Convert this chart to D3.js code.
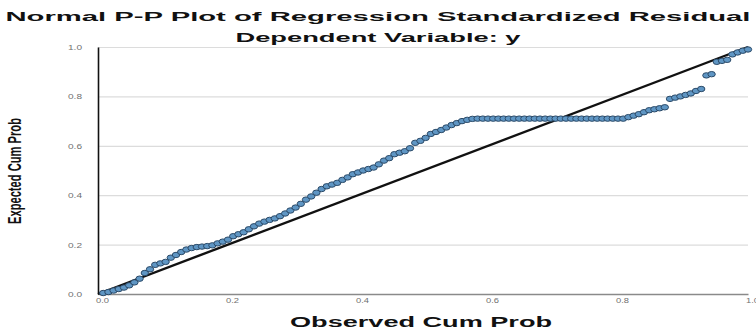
<!DOCTYPE html>
<html>
<head>
<meta charset="utf-8">
<script src="https://cdn.jsdelivr.net/npm/d3@7"></script>
<style>
  html, body { margin: 0; padding: 0; background: #fff; }
  svg { display: block; }
</style>
</head>
<body>
<div id="chart"></div>
<script>
// Normal P-P plot of regression standardized residuals (dependent variable: y)

const titleText = "Normal P-P Plot of Regression Standardized Residual";
const subtitleText = "Dependent Variable: y";
const xAxisTitle = "Observed Cum Prob";
const yAxisTitle = "Expected Cum Prob";

const tickValues = [0, 0.2, 0.4, 0.6, 0.8, 1.0];
const tickLabels = ["0.0", "0.2", "0.4", "0.6", "0.8", "1.0"];

// Observed cumulative probability of each residual
const observed = [
  0.008, 0.016, 0.024, 0.032, 0.040, 0.048, 0.056, 0.064, 0.072, 0.080,
  0.088, 0.096, 0.104, 0.112, 0.120, 0.128, 0.136, 0.144, 0.152, 0.160,
  0.168, 0.176, 0.184, 0.192, 0.200, 0.208, 0.216, 0.224, 0.232, 0.240,
  0.248, 0.256, 0.264, 0.272, 0.280, 0.288, 0.296, 0.304, 0.312, 0.320,
  0.328, 0.336, 0.344, 0.352, 0.360, 0.368, 0.376, 0.384, 0.392, 0.400,
  0.408, 0.416, 0.424, 0.432, 0.440, 0.448, 0.456, 0.464, 0.472, 0.480,
  0.488, 0.496, 0.504, 0.512, 0.520, 0.528, 0.536, 0.544, 0.552, 0.560,
  0.568, 0.576, 0.584, 0.592, 0.600, 0.608, 0.616, 0.624, 0.632, 0.640,
  0.648, 0.656, 0.664, 0.672, 0.680, 0.688, 0.696, 0.704, 0.712, 0.720,
  0.728, 0.736, 0.744, 0.752, 0.760, 0.768, 0.776, 0.784, 0.792, 0.800,
  0.808, 0.816, 0.824, 0.832, 0.840, 0.848, 0.856, 0.864, 0.872, 0.880,
  0.888, 0.896, 0.904, 0.912, 0.920, 0.928, 0.936, 0.944, 0.952, 0.960,
  0.968, 0.976, 0.984, 0.992, 1.000
];

// Expected cumulative probability under the normal distribution
const expected = [
  0.004, 0.008, 0.014, 0.020, 0.026, 0.035, 0.047, 0.062, 0.085, 0.100,
  0.118, 0.124, 0.130, 0.147, 0.158, 0.170, 0.180, 0.186, 0.190, 0.192,
  0.194, 0.197, 0.205, 0.212, 0.220, 0.234, 0.242, 0.250, 0.262, 0.274,
  0.285, 0.293, 0.300, 0.306, 0.315, 0.326, 0.338, 0.350, 0.365, 0.382,
  0.395, 0.410, 0.425, 0.436, 0.443, 0.450, 0.462, 0.472, 0.485, 0.492,
  0.500, 0.506, 0.512, 0.525, 0.540, 0.550, 0.566, 0.572, 0.578, 0.590,
  0.612, 0.620, 0.632, 0.648, 0.656, 0.664, 0.674, 0.684, 0.692, 0.700,
  0.705, 0.709, 0.710, 0.710, 0.710, 0.710, 0.710, 0.710, 0.710, 0.710,
  0.710, 0.710, 0.710, 0.710, 0.710, 0.710, 0.710, 0.710, 0.710, 0.710,
  0.710, 0.710, 0.710, 0.710, 0.710, 0.710, 0.710, 0.710, 0.710, 0.710,
  0.710, 0.716, 0.722, 0.728, 0.736, 0.744, 0.748, 0.752, 0.756, 0.790,
  0.795, 0.800, 0.806, 0.812, 0.822, 0.830, 0.885, 0.890, 0.940, 0.944,
  0.948, 0.970, 0.978, 0.985, 0.990
];

// Reference line: expected = observed
const diagonal = [[0, 0], [1, 1]];

const width = 756, height = 331;
const plot = { left: 98, right: 748, top: 47, bottom: 294 };

const svg = d3.select("#chart").append("svg")
  .attr("width", width)
  .attr("height", height);

const x = d3.scaleLinear().domain([0, 1]).range([plot.left, plot.right]);
const y = d3.scaleLinear().domain([0, 1]).range([plot.bottom, plot.top]);

const font = "'Liberation Sans', Arial, sans-serif";

// Horizontal gridlines
const grid = svg.append("g")
  .attr("transform", `translate(${plot.left},0)`)
  .call(d3.axisLeft(y).tickValues(tickValues.slice(1))
    .tickSize(-(plot.right - plot.left)).tickFormat(""));
grid.select(".domain").remove();
grid.selectAll("line").attr("stroke", "#dcdcdc").attr("stroke-width", 1.2);

// X axis
const xAxis = svg.append("g")
  .attr("transform", `translate(0,${plot.bottom})`)
  .call(d3.axisBottom(x).tickValues(tickValues).tickSize(0)
    .tickFormat((d, i) => tickLabels[i]));
xAxis.select(".domain").attr("stroke", "#8a8a8a").attr("stroke-width", 1.5);
xAxis.selectAll("text")
  .attr("dy", "0.55em")
  .attr("dx", 4)
  .attr("y", 5)
  .attr("fill", "#707070")
  .attr("font-family", font)
  .attr("font-size", 7)
  .attr("textLength", 13)
  .attr("lengthAdjust", "spacingAndGlyphs");

// Y axis
const yAxis = svg.append("g")
  .attr("transform", `translate(${plot.left},0)`)
  .call(d3.axisLeft(y).tickValues(tickValues).tickSize(0)
    .tickFormat((d, i) => tickLabels[i]));
yAxis.select(".domain").attr("stroke", "#111").attr("stroke-width", 1.6);
yAxis.selectAll("text")
  .attr("x", -16)
  .attr("dy", "0.35em")
  .attr("fill", "#707070")
  .attr("font-family", font)
  .attr("font-size", 7)
  .attr("textLength", 14)
  .attr("lengthAdjust", "spacingAndGlyphs");

// Diagonal reference line
svg.append("path")
  .datum(diagonal)
  .attr("d", d3.line().x(d => x(d[0])).y(d => y(d[1])))
  .attr("fill", "none")
  .attr("stroke", "#111")
  .attr("stroke-width", 2.4);

// Residual points
svg.append("g")
  .selectAll("ellipse")
  .data(observed.map((o, i) => ({ o, e: expected[i] })))
  .join("ellipse")
  .attr("cx", d => x(d.o))
  .attr("cy", d => y(d.e))
  .attr("rx", 3.7)
  .attr("ry", 2.7)
  .attr("fill", "#5f96c4")
  .attr("stroke", "#2b4a68")
  .attr("stroke-width", 1);

// Titles
function stretchedText(txt, cx, cy, size, len, weight, fill) {
  return svg.append("text")
    .attr("x", cx).attr("y", cy)
    .attr("text-anchor", "middle")
    .attr("font-family", font)
    .attr("font-weight", weight)
    .attr("font-size", size)
    .attr("fill", fill)
    .attr("textLength", len)
    .attr("lengthAdjust", "spacingAndGlyphs")
    .text(txt);
}

stretchedText(titleText, 378, 21, 13, 745, "bold", "#111");
stretchedText(subtitleText, 378, 42, 12.5, 285, "bold", "#111");
stretchedText(xAxisTitle, 421, 327, 14, 262, "bold", "#111");

svg.append("text")
  .attr("transform", "translate(21,171) rotate(-90)")
  .attr("text-anchor", "middle")
  .attr("font-family", font)
  .attr("font-weight", "bold")
  .attr("font-size", 18)
  .attr("fill", "#111")
  .attr("textLength", 106)
  .attr("lengthAdjust", "spacingAndGlyphs")
  .text(yAxisTitle);
</script>
</body>
</html>
